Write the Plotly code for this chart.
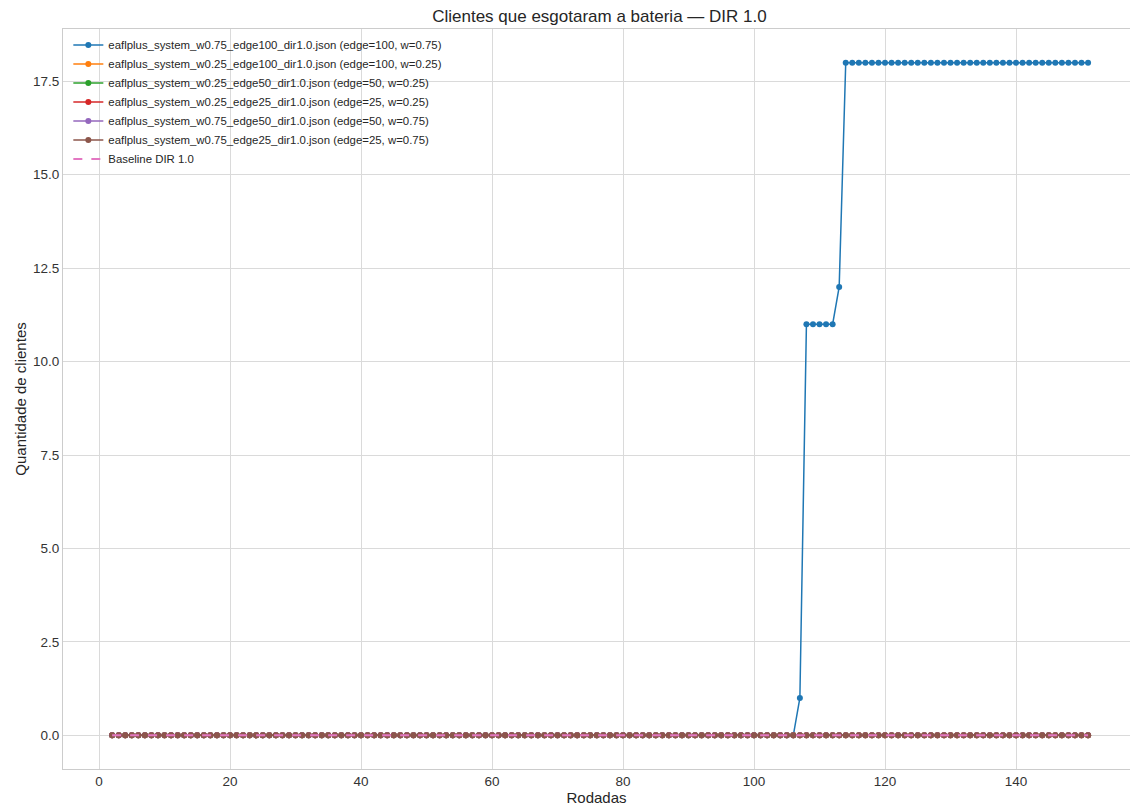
import plotly.graph_objects as go

rounds = list(range(2, 152))

series_names = [
    "eaflplus_system_w0.75_edge100_dir1.0.json (edge=100, w=0.75)",
    "eaflplus_system_w0.25_edge100_dir1.0.json (edge=100, w=0.25)",
    "eaflplus_system_w0.25_edge50_dir1.0.json (edge=50, w=0.25)",
    "eaflplus_system_w0.25_edge25_dir1.0.json (edge=25, w=0.25)",
    "eaflplus_system_w0.75_edge50_dir1.0.json (edge=50, w=0.75)",
    "eaflplus_system_w0.75_edge25_dir1.0.json (edge=25, w=0.75)",
]
colors = ["#1f77b4", "#ff7f0e", "#2ca02c", "#d62728", "#9467bd", "#8c564b"]

w075_edge100 = [0] * 105 + [1] + [11] * 5 + [12] + [18] * 38
w025_edge100 = [0] * 150
w025_edge50 = [0] * 150
w025_edge25 = [0] * 150
w075_edge50 = [0] * 150
w075_edge25 = [0] * 150
baseline = [0] * 150

values = [w075_edge100, w025_edge100, w025_edge50, w025_edge25, w075_edge50, w075_edge25]

font_family = "Liberation Sans, Arial, sans-serif"

fig = go.Figure()
for name, vals, c in zip(series_names, values, colors):
    fig.add_trace(go.Scatter(
        x=rounds, y=vals, name=name, mode="lines+markers",
        line=dict(color=c, width=1.5),
        marker=dict(color=c, size=6),
    ))
fig.add_trace(go.Scatter(
    x=rounds, y=baseline, name="Baseline DIR 1.0", mode="lines",
    line=dict(color="#e377c2", width=2, dash="dash"),
))

axis_common = dict(
    showgrid=True, gridcolor="#dadada", gridwidth=1,
    showline=True, linecolor="#cccccc", linewidth=1,
    zeroline=False, ticks="",
    tickfont=dict(size=13.5, color="#333333", family=font_family),
)

fig.update_layout(
    width=1131, height=808,
    paper_bgcolor="white", plot_bgcolor="white",
    margin=dict(l=62.7, r=1, t=28.5, b=39),
    font=dict(family=font_family, color="#262626"),
    title=dict(text="Clientes que esgotaram a bateria — DIR 1.0", x=0.53, xanchor="center",
               y=1 - 16 / 808, yanchor="middle", font=dict(size=17, color="#262626")),
    xaxis=dict(range=[-5.5, 157.4], tickvals=[0, 20, 40, 60, 80, 100, 120, 140], mirror=True,
               title=dict(text="Rodadas", font=dict(size=15), standoff=1), **axis_common),
    yaxis=dict(range=[-0.9, 18.9], tickvals=[0, 2.5, 5, 7.5, 10, 12.5, 15, 17.5],
               ticktext=["0.0", "2.5", "5.0", "7.5", "10.0", "12.5", "15.0", "17.5"],
               title=dict(text="Quantidade de clientes", font=dict(size=15), standoff=2), **axis_common),
    legend=dict(x=0.005, y=0.998, xanchor="left", yanchor="top", bgcolor="rgba(0,0,0,0)",
                font=dict(size=11.4, color="#262626", family=font_family), tracegroupgap=0),
    showlegend=True,
)

fig.write_html("out.html")
